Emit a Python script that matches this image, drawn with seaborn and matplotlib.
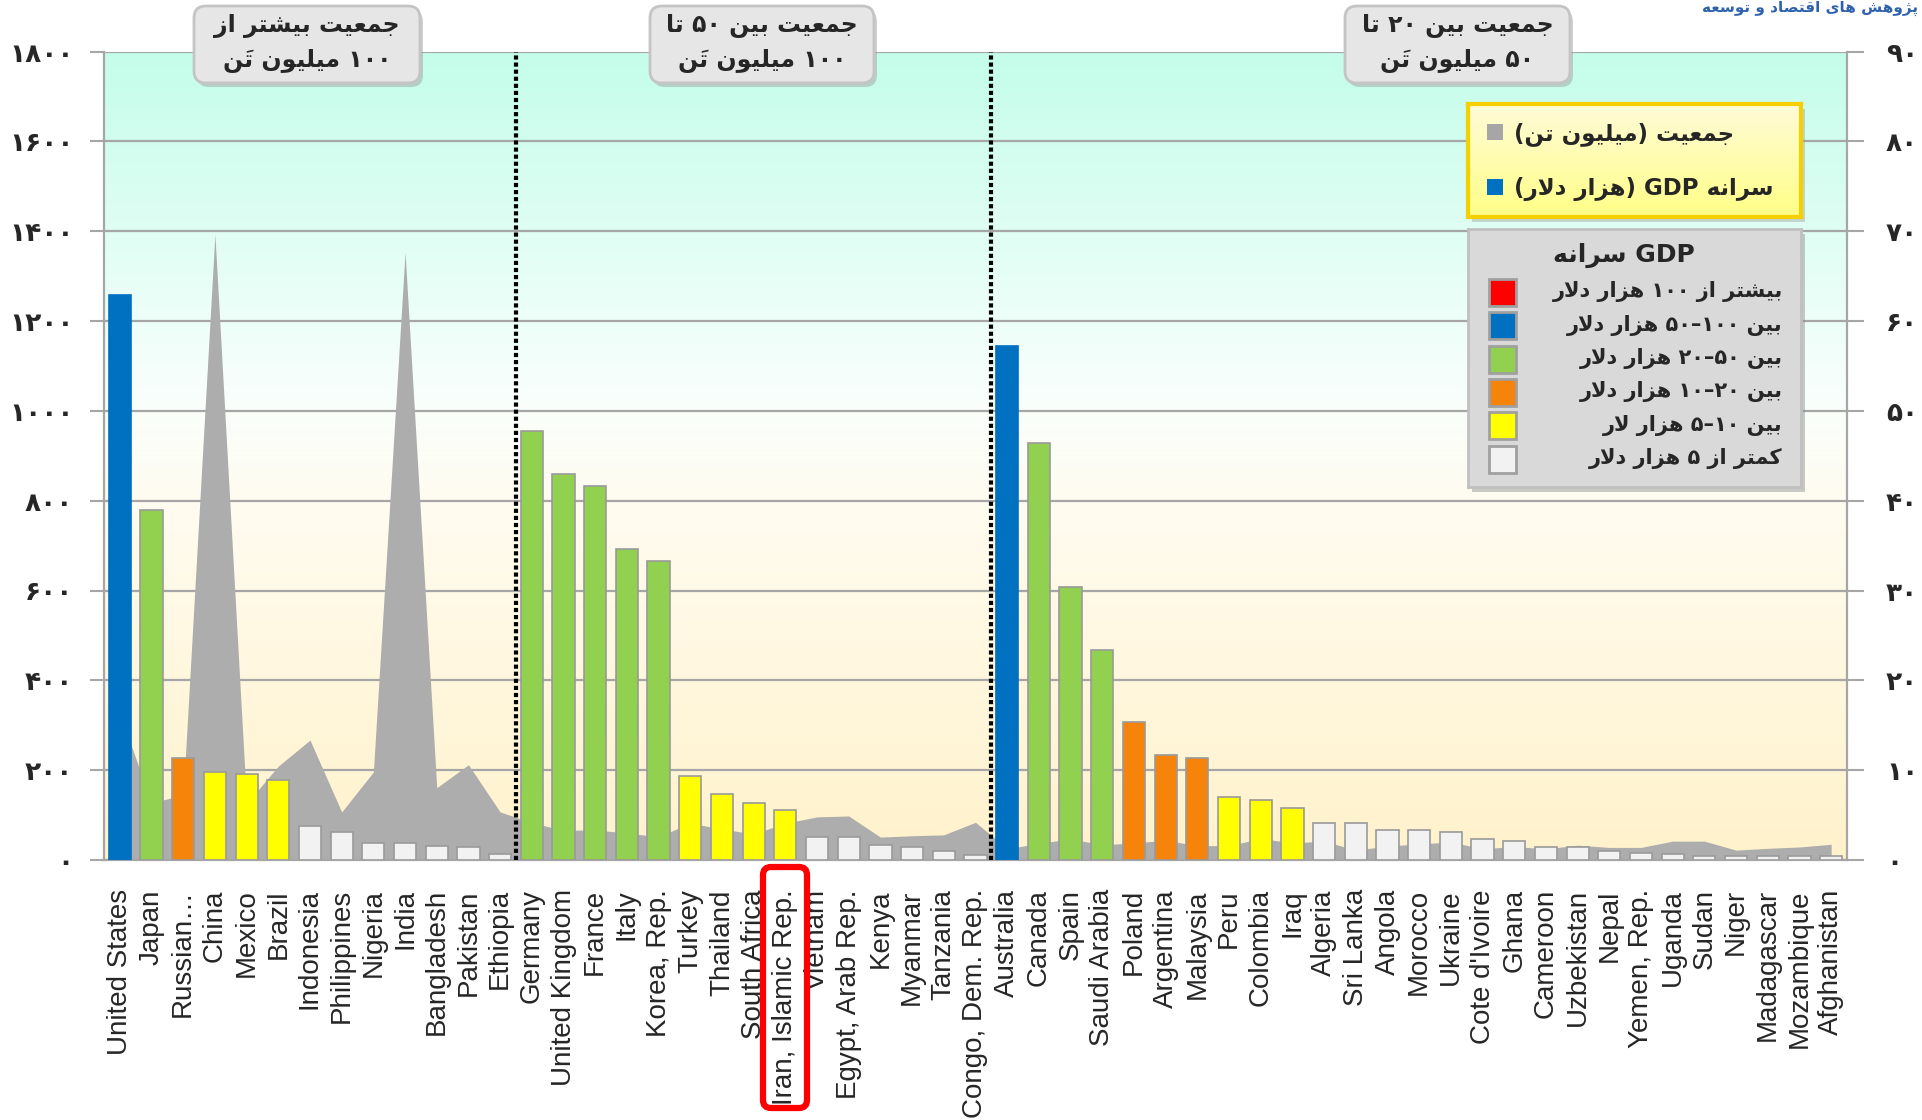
import numpy as np
import matplotlib
matplotlib.use("Agg")
import matplotlib.pyplot as plt
import seaborn as sns
from matplotlib.colors import LinearSegmentedColormap
from matplotlib.patches import FancyBboxPatch, Rectangle
from matplotlib.transforms import Affine2D

# ---------------- data ----------------
countries = [
    "United States", "Japan", "Russian\u2026", "China", "Mexico", "Brazil", "Indonesia",
    "Philippines", "Nigeria", "India", "Bangladesh", "Pakistan", "Ethiopia",
    "Germany", "United Kingdom", "France", "Italy", "Korea, Rep.", "Turkey", "Thailand",
    "South Africa", "Iran, Islamic Rep.", "Vietnam", "Egypt, Arab Rep.", "Kenya",
    "Myanmar", "Tanzania", "Congo, Dem. Rep.",
    "Australia", "Canada", "Spain", "Saudi Arabia", "Poland", "Argentina", "Malaysia",
    "Peru", "Colombia", "Iraq", "Algeria", "Sri Lanka", "Angola", "Morocco", "Ukraine",
    "Cote d'Ivoire", "Ghana", "Cameroon", "Uzbekistan", "Nepal", "Yemen, Rep.", "Uganda",
    "Sudan", "Niger", "Madagascar", "Mozambique", "Afghanistan",
]

# population, million (left axis)
population = [
    327, 127, 145, 1393, 126, 209, 267, 107, 196, 1353, 161, 212, 107,
    83, 66, 67, 60, 52, 82, 69, 58, 82, 96, 98, 51, 54, 56, 84,
    25, 37, 47, 34, 38, 44, 32, 32, 48, 38, 42, 22, 31, 36, 40,
    25, 30, 25, 33, 28, 28, 42, 42, 22, 26, 29, 35,
]

# GDP per capita, thousand dollars (right axis)
gdp_per_capita = [
    62.9, 39.0, 11.3, 9.8, 9.6, 8.9, 3.8, 3.1, 1.9, 1.9, 1.6, 1.4, 0.7,
    47.8, 43.0, 41.6, 34.6, 33.3, 9.4, 7.3, 6.4, 5.6, 2.6, 2.6, 1.7, 1.4, 1.0, 0.6,
    57.2, 46.4, 30.4, 23.4, 15.4, 11.7, 11.4, 7.0, 6.7, 5.8, 4.1, 4.1, 3.3, 3.3, 3.1,
    2.3, 2.1, 1.5, 1.5, 1.0, 0.75, 0.65, 0.5, 0.5, 0.5, 0.5, 0.4,
]

left_ticks = [0, 200, 400, 600, 800, 1000, 1200, 1400, 1600, 1800]
right_ticks = [0, 10, 20, 30, 40, 50, 60, 70, 80, 90]
group_edges = [12.5, 27.5]

group_titles = [
    ("جمعیت بیشتر از", "۱۰۰ میلیون تَن"),
    ("جمعیت بین ۵۰ تا", "۱۰۰ میلیون تَن"),
    ("جمعیت بین ۲۰ تا", "۵۰ میلیون تَن"),
]

gdp_class_labels = [
    "بیشتر از ۱۰۰ هزار دلار",
    "بین ۱۰۰–۵۰ هزار دلار",
    "بین ۵۰–۲۰ هزار دلار",
    "بین ۲۰–۱۰ هزار دلار",
    "بین ۱۰–۵ هزار لار",
    "کمتر از ۵ هزار دلار",
]
gdp_class_colors = ["#ff0000", "#0070c0", "#92d050", "#f6830a", "#ffff00", "#f2f2f2"]
gdp_class_bounds = [100, 50, 20, 10, 5]

# ---------------- persian text helpers ----------------
FORMS = {
    "ا": (0xFE8D, 0xFE8E, None, None), "آ": (0xFE81, 0xFE82, None, None),
    "ب": (0xFE8F, 0xFE90, 0xFE91, 0xFE92), "پ": (0xFB56, 0xFB57, 0xFB58, 0xFB59),
    "ت": (0xFE95, 0xFE96, 0xFE97, 0xFE98), "ج": (0xFE9D, 0xFE9E, 0xFE9F, 0xFEA0),
    "د": (0xFEA9, 0xFEAA, None, None), "ر": (0xFEAD, 0xFEAE, None, None),
    "ز": (0xFEAF, 0xFEB0, None, None), "ژ": (0xFB8A, 0xFB8B, None, None),
    "س": (0xFEB1, 0xFEB2, 0xFEB3, 0xFEB4), "ش": (0xFEB5, 0xFEB6, 0xFEB7, 0xFEB8),
    "ص": (0xFEB9, 0xFEBA, 0xFEBB, 0xFEBC), "ع": (0xFEC9, 0xFECA, 0xFECB, 0xFECC),
    "ق": (0xFED5, 0xFED6, 0xFED7, 0xFED8), "ک": (0xFB8E, 0xFB8F, 0xFB90, 0xFB91),
    "ل": (0xFEDD, 0xFEDE, 0xFEDF, 0xFEE0), "م": (0xFEE1, 0xFEE2, 0xFEE3, 0xFEE4),
    "ن": (0xFEE5, 0xFEE6, 0xFEE7, 0xFEE8), "و": (0xFEED, 0xFEEE, None, None),
    "ه": (0xFEE9, 0xFEEA, 0xFEEB, 0xFEEC), "ی": (0xFBFC, 0xFBFD, 0xFBFE, 0xFBFF),
}
MARKS = "\u064e"
MIRROR = {"(": ")", ")": "("}


def dual(c):
    return c in FORMS and FORMS[c][2] is not None


def shape(s):
    res = []
    i, n = 0, len(s)
    while i < n:
        c = s[i]
        if c not in FORMS:
            res.append(c)
            i += 1
            continue
        j = i - 1
        while j >= 0 and s[j] in MARKS:
            j -= 1
        prev_join = j >= 0 and dual(s[j])
        k = i + 1
        while k < n and s[k] in MARKS:
            k += 1
        if c == "ل" and k < n and s[k] == "ا":
            res.append(chr(0xFEFC if prev_join else 0xFEFB))
            i = k + 1
            continue
        next_join = dual(c) and k < n and s[k] in FORMS
        iso, fin, ini, med = FORMS[c]
        if prev_join and next_join:
            res.append(chr(med))
        elif prev_join:
            res.append(chr(fin))
        elif next_join:
            res.append(chr(ini))
        else:
            res.append(chr(iso))
        i += 1
    return "".join(res)


def is_ltr(c):
    return (c.isascii() and c.isalnum()) or ("\u06f0" <= c <= "\u06f9")


def rtl(s):
    # shape letters, then lay the runs out right-to-left
    runs = []
    for c in shape(s):
        kind = is_ltr(c)
        if runs and runs[-1][0] == kind:
            runs[-1][1].append(c)
        else:
            runs.append([kind, [c]])
    out = []
    for kind, chars in reversed(runs):
        if kind:
            out.append("".join(chars))
        else:
            clusters = []
            for c in chars:
                if c in MARKS and clusters:
                    clusters[-1] = c + clusters[-1]
                else:
                    clusters.append(c)
            out.append("".join(MIRROR.get(x, x) for x in reversed(clusters)))
    return "".join(out)


FA_DIGITS = str.maketrans("0123456789", "۰۱۲۳۴۵۶۷۸۹")


def fa_num(v):
    return str(v).translate(FA_DIGITS)


FA_FONT = ["DejaVu Sans"]

# ---------------- figure ----------------
sns.set_style("white")
plt.rcParams["font.family"] = ["DejaVu Sans"]

W, H = 1922, 1120
fig = plt.figure(figsize=(W / 100, H / 100), dpi=100)
px = Affine2D().scale(1 / W, -1 / H).translate(0, 1) + fig.transFigure

ax = fig.add_axes([104 / W, 1 - 860 / H, (1847 - 104) / W, (860 - 51.5) / H])
ax2 = ax.twinx()

# background gradient
bg = LinearSegmentedColormap.from_list(
    "bg", [(0, "#fff2cb"), (0.45, "#fffcf1"), (0.58, "#f8fffc"), (1, "#c4fdea")])
grad = np.linspace(0, 1, 256).reshape(-1, 1)
ax.imshow(grad, extent=(0, 1, 0, 1), transform=ax.transAxes, origin="lower",
          aspect="auto", cmap=bg, zorder=0)

# population area
x = np.arange(len(countries))
ax.fill_between(x, population, color="#adadad", lw=0, zorder=1)

# GDP per capita bars
g = np.array(gdp_per_capita)
bar_colors = np.select([g > b for b in gdp_class_bounds], gdp_class_colors[:5],
                       default=gdp_class_colors[5])
palette = dict(zip(countries, bar_colors))
sns.barplot(x=countries, y=gdp_per_capita, hue=countries, palette=palette,
            legend=False, width=0.7, saturation=1, edgecolor="#9a9a9a",
            linewidth=1.2, ax=ax2)
for p in ax2.patches:
    if matplotlib.colors.to_hex(p.get_facecolor()) == "#0070c0":
        p.set_edgecolor("#0070c0")

for xe in group_edges:
    ax2.axvline(xe, color="black", lw=3, ls=(0, (1, 0.7)), zorder=5)

# axes limits / ticks
ax.set_xlim(-0.5, len(countries) - 0.5)
ax.set_ylim(0, 1800)
ax2.set_ylim(0, 90)
ax2.set_ylabel("")
ax.set_axisbelow(True)
ax.yaxis.grid(True, color="#a6a6a6", lw=1.6)

ax.set_yticks(left_ticks)
ax.set_yticklabels([fa_num(v) for v in left_ticks], fontsize=19, fontweight="bold",
                   family=FA_FONT)
ax2.set_yticks(right_ticks)
ax2.set_yticklabels([fa_num(v) for v in right_ticks], fontsize=19, fontweight="bold",
                    family=FA_FONT)
ax.tick_params(axis="y", length=10, width=1.5, color="#a6a6a6", pad=12)
ax2.tick_params(axis="y", length=12, width=1.5, color="#a6a6a6", pad=16)

ax.set_xticks(x)
ax.set_xticklabels(countries, rotation=90, fontsize=20, family="Liberation Sans",
                   va="top", ha="center")
ax.set_xticks(np.arange(-0.5, len(countries), 1), minor=True)
ax.tick_params(axis="x", which="major", length=0, pad=21)
ax.tick_params(axis="x", which="minor", length=12, width=1.2, color="#a6a6a6")

for a in (ax, ax2):
    for s in a.spines.values():
        s.set_visible(False)
ax.spines["left"].set_visible(True)
ax.spines["left"].set_color("#a6a6a6")
ax.spines["bottom"].set_visible(True)
ax.spines["bottom"].set_color("#a6a6a6")
ax2.spines["right"].set_visible(True)
ax2.spines["right"].set_color("#a6a6a6")
for s in ("left", "bottom", "right"):
    ax.spines[s].set_linewidth(1.6)
    ax2.spines[s].set_linewidth(1.6)


# ---------------- group title boxes ----------------
def shadow_box(x0, y0, w, h, face, edge, r=12, lw=2, z=3):
    fig.add_artist(FancyBboxPatch((x0 + 3, y0 + 4), w, h, boxstyle=f"round,pad=0,rounding_size={r}",
                                  transform=px, fc="#9a9a9a", ec="none", alpha=0.45, zorder=z))
    fig.add_artist(FancyBboxPatch((x0, y0), w, h, boxstyle=f"round,pad=0,rounding_size={r}",
                                  transform=px, fc=face, ec=edge, lw=lw, zorder=z + 0.1))


for (l1, l2), (bx0, bx1) in zip(group_titles, [(194, 420), (650, 874), (1345, 1570)]):
    shadow_box(bx0, 6, bx1 - bx0, 77, "#e6e6e6", "#c4c4c4")
    cx = (bx0 + bx1) / 2
    fig.text(cx, 26, rtl(l1), transform=px, ha="center", va="center", fontsize=17,
             fontweight="bold", family=FA_FONT, zorder=4)
    fig.text(cx, 61, rtl(l2), transform=px, ha="center", va="center", fontsize=17,
             fontweight="bold", family=FA_FONT, zorder=4)

# ---------------- legend 1 (yellow) ----------------
fig.add_artist(Rectangle((1472, 109), 333, 113, transform=px, fc="#9a9a9a", ec="none",
                         alpha=0.4, zorder=3))
lg1 = fig.add_axes([1468 / W, 1 - 217 / H, 333 / W, 113 / H], zorder=4)
ycmap = LinearSegmentedColormap.from_list("yl", ["#ffff86", "#fffbd8"])
lg1.imshow(grad, extent=(0, 1, 0, 1), origin="lower", aspect="auto", cmap=ycmap)
lg1.set_xticks([])
lg1.set_yticks([])
for s in lg1.spines.values():
    s.set_color("#f5cf00")
    s.set_linewidth(3)

fig.add_artist(Rectangle((1487, 124), 16, 16, transform=px, fc="#a6a6a6", ec="none", zorder=5))
fig.add_artist(Rectangle((1487, 179), 16, 16, transform=px, fc="#0070c0", ec="none", zorder=5))
fig.text(1514, 134, rtl("جمعیت (میلیون تن)"), transform=px, ha="left", va="center",
         fontsize=16.5, fontweight="bold", family=FA_FONT, zorder=6)
fig.text(1514, 189, rtl("سرانه GDP (هزار دلار)"), transform=px, ha="left", va="center",
         fontsize=16.5, fontweight="bold", family=FA_FONT, zorder=6)

# ---------------- legend 2 (grey) ----------------
fig.add_artist(Rectangle((1472, 234), 333, 258, transform=px, fc="#8a8a8a", ec="none",
                         alpha=0.45, zorder=3))
lg2 = fig.add_axes([1468 / W, 1 - 487 / H, 333 / W, 258 / H], zorder=4)
lg2.set_facecolor("#d9d9d9")
lg2.set_xticks([])
lg2.set_yticks([])
for s in lg2.spines.values():
    s.set_color("#c0c0c0")
    s.set_linewidth(2)

fig.text(1624, 255, rtl("GDP سرانه"), transform=px, ha="center", va="center",
         fontsize=18, fontweight="bold", family=FA_FONT, zorder=6)
for k, (lab, col) in enumerate(zip(gdp_class_labels, gdp_class_colors)):
    ry = 292 + k * 33.3
    fig.add_artist(Rectangle((1489, ry - 13), 27, 27, transform=px, fc=col, ec="#a0a0a0",
                             lw=2, zorder=6))
    fig.text(1783, ry, rtl(lab), transform=px, ha="right", va="center", fontsize=15,
             fontweight="bold", family=FA_FONT, zorder=6)

# source note, top right
fig.text(1918, 1, rtl("پژوهش های اقتصاد و توسعه"), transform=px, ha="right",
         va="top", fontsize=11, fontweight="bold", color="#2e62ad", family=FA_FONT)

# highlight Iran label
fig.add_artist(FancyBboxPatch((763, 867), 44, 241, boxstyle="round,pad=0,rounding_size=8",
                              transform=px, fc="none", ec="#ff0000", lw=4.5, zorder=6))

fig.savefig("out.png", dpi=100)
